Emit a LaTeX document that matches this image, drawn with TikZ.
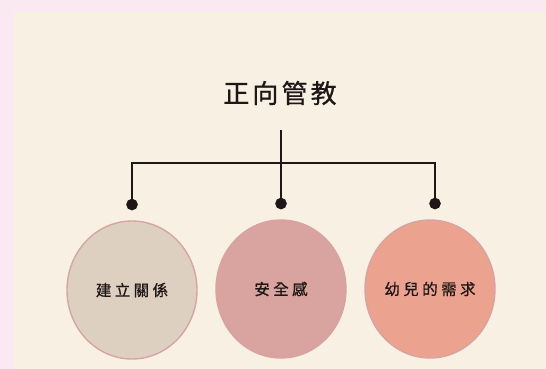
\documentclass[tikz,border=0pt]{standalone}
\usepackage{fontspec}
\usepackage{xcolor}
\usepackage{tikz}
\usetikzlibrary{arrows.meta,shapes.geometric}

\newfontfamily\cjkwide[LetterSpace=12,FakeBold=0.6]{Noto Sans CJK TC}
\newfontfamily\cjkspaced[LetterSpace=22,FakeBold=0.8]{Noto Sans CJK TC}

\definecolor{pagepink}{HTML}{FBE9F1}
\definecolor{panelcream}{HTML}{F8F0E2}
\definecolor{inkdark}{HTML}{1F1717}
\definecolor{beigefill}{HTML}{DDD0C0}
\definecolor{rosefill}{HTML}{D9A39F}
\definecolor{salmonfill}{HTML}{EBA28F}
\definecolor{rimpink}{HTML}{D7A4A2}

\begin{document}
\begin{tikzpicture}[
  x=1pt, y=-1pt,
  bubble/.style={ellipse, draw=rimpink, line width=1.4pt, inner sep=0pt,
                 minimum width=130pt, minimum height=138pt,
                 text=inkdark, font=\cjkspaced\fontsize{15.5}{18}\selectfont},
  link/.style={line width=2pt, inkdark, -{Circle[length=11.5pt]}, shorten >=10pt}
]
  % page and panel
  \fill[pagepink] (0,0) rectangle (546,369);
  \fill[panelcream] (14,12) rectangle (546,369);

  \node[text=inkdark, font=\cjkwide\fontsize{26}{30}\selectfont] (title) at (280,93) {正向管教};

  \node[bubble, fill=beigefill] (left) at (132,290) {建立關係};
  \node[bubble, fill=rosefill] (mid) at (281,289) {安全感};
  \node[bubble, fill=salmonfill] (right) at (430,289) {幼兒的需求};

  \coordinate (stem) at (281,130);
  \coordinate (bar) at (281,163);

  \draw[link] (stem) -- (mid);
  \draw[link] (bar) -| (left);
  \draw[link] (bar) -| ([xshift=5pt]right.north);
\end{tikzpicture}
\end{document}
